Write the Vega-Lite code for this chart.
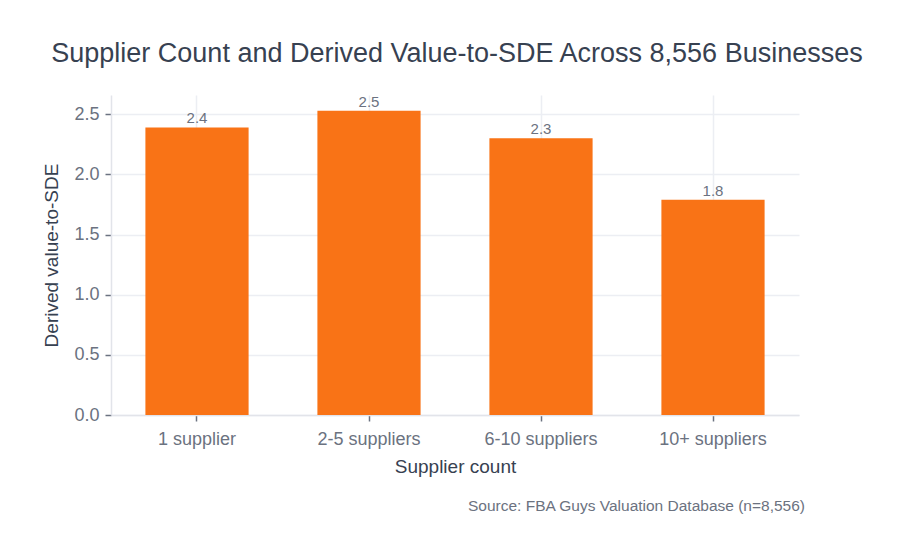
{
  "$schema": "https://vega.github.io/schema/vega-lite/v6.json",
  "background": "white",
  "padding": {"left": 42, "top": 39, "right": 10, "bottom": 10},
  "title": {
    "text": "Supplier Count and Derived Value-to-SDE Across 8,556 Businesses",
    "fontSize": 27, "font": "Liberation Sans", "fontWeight": "normal", "color": "#374151",
    "anchor": "middle", "offset": 27, "dx": 33
  },
  "config": {
    "view": {"stroke": null},
    "font": "Liberation Sans",
    "axis": {
      "labelFont": "Liberation Sans", "titleFont": "Liberation Sans",
      "labelColor": "#6b7280", "titleColor": "#374151",
      "labelFontSize": 18, "titleFontSize": 19, "titleFontWeight": "normal",
      "gridColor": "#eceef3", "gridWidth": 1.5,
      "domainColor": "#e2e4ea", "domainWidth": 1.5,
      "tickColor": "#6b7280", "tickSize": 6, "tickWidth": 1.5
    }
  },
  "vconcat": [
    {
      "width": 688,
      "height": 320,
      "title": {
        "text": "Source: FBA Guys Valuation Database (n=8,556)",
        "orient": "bottom", "anchor": "end", "fontSize": 15.5, "font": "Liberation Sans",
        "fontWeight": "normal", "color": "#6b7280", "offset": 23, "dx": 6
      },
      "data": {
        "values": [
          {"supplier": "1 supplier", "value": 2.39, "label": "2.4"},
          {"supplier": "2-5 suppliers", "value": 2.53, "label": "2.5"},
          {"supplier": "6-10 suppliers", "value": 2.30, "label": "2.3"},
          {"supplier": "10+ suppliers", "value": 1.79, "label": "1.8"}
        ]
      },
      "encoding": {
        "x": {
          "field": "supplier", "type": "nominal", "sort": null,
          "title": "Supplier count",
          "scale": {"paddingInner": 0.4, "paddingOuter": 0.2},
          "axis": {"labelAngle": 0, "grid": true, "labelPadding": 9, "titlePadding": 9}
        },
        "y": {
          "field": "value", "type": "quantitative",
          "title": "Derived value-to-SDE",
          "scale": {"domain": [0, 2.66], "nice": false, "zero": true},
          "axis": {"values": [0, 0.5, 1, 1.5, 2, 2.5], "format": ".1f", "labelPadding": 6, "titlePadding": 12}
        }
      },
      "layer": [
        {"mark": {"type": "bar", "color": "#f97316"}},
        {
          "mark": {"type": "text", "baseline": "bottom", "dy": -1, "fontSize": 15, "color": "#6b7280", "font": "Liberation Sans"},
          "encoding": {"text": {"field": "label"}}
        }
      ]
    }
  ]
}
